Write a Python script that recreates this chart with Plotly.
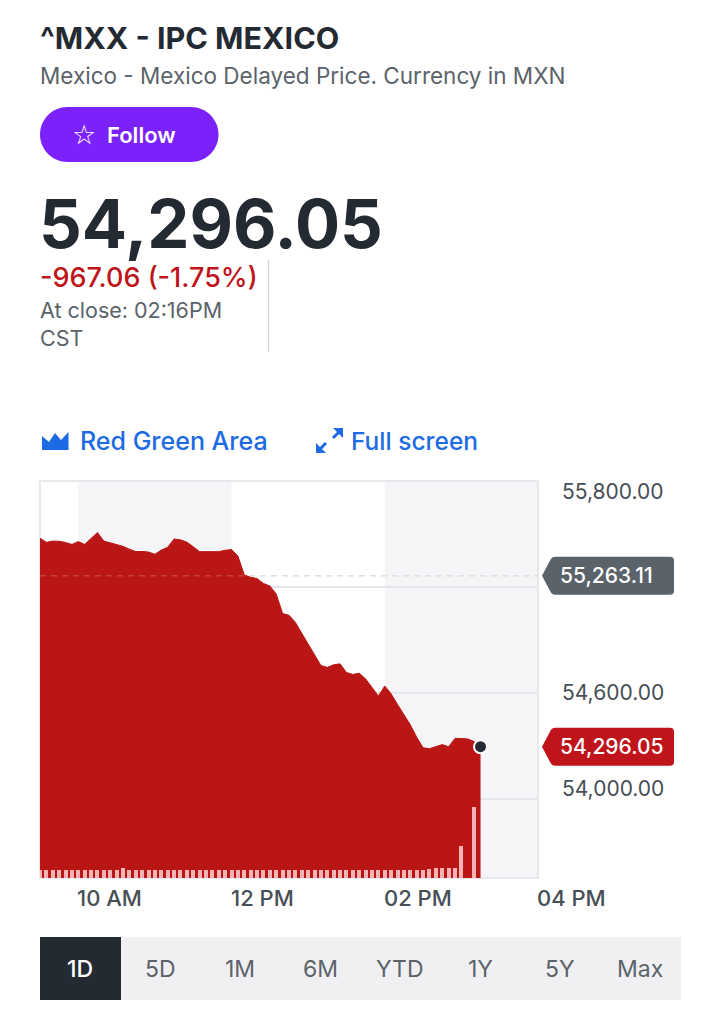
import plotly.graph_objects as go

DAY = "2024-05-14 "

# ---------------- data ----------------
times = ["09:30", "09:35", "09:40", "09:45", "09:50", "09:55", "10:00", "10:05", "10:10", "10:15",
         "10:20", "10:25", "10:30", "10:35", "10:40", "10:45", "10:50", "10:55", "11:00", "11:05",
         "11:10", "11:15", "11:20", "11:25", "11:30", "11:35", "11:40", "11:45", "11:50", "11:55",
         "12:00", "12:05", "12:10", "12:15", "12:20", "12:25", "12:30", "12:35", "12:40", "12:45",
         "12:50", "12:55", "13:00", "13:05", "13:10", "13:15", "13:20", "13:25", "13:30", "13:35",
         "13:40", "13:45", "13:50", "13:55", "14:00", "14:05", "14:10", "14:15", "14:20", "14:25",
         "14:30", "14:35", "14:40", "14:45", "14:50", "14:55", "15:00", "15:05", "15:10", "15:15"]

prices = [55476, 55453, 55460, 55459, 55452, 55441, 55457, 55441, 55475, 55508,
          55460, 55450, 55442, 55430, 55414, 55401, 55401, 55398, 55385, 55409,
          55425, 55472, 55467, 55454, 55428, 55400, 55400, 55400, 55400, 55408,
          55412, 55375, 55268, 55255, 55248, 55220, 55206, 55160, 55050, 55040,
          55000, 54938, 54880, 54815, 54756, 54745, 54760, 54765, 54716, 54705,
          54712, 54680, 54634, 54583, 54640, 54595, 54535, 54480, 54420, 54350,
          54290, 54285, 54296, 54308, 54296, 54343, 54343, 54340, 54325, 54296.05]

volume_times = times[:69]
volumes = [1.0, 1.0, 1.0, 1.0, 1.0, 1.0, 1.0, 1.0, 1.0, 1.0,
           1.0, 1.0, 1.0, 1.25, 1.0, 1.0, 1.0, 1.0, 1.0, 1.0,
           1.0, 1.0, 1.0, 1.0, 1.0, 1.0, 1.0, 1.0, 1.0, 1.0,
           1.0, 1.0, 1.0, 1.0, 1.0, 1.0, 1.0, 1.0, 1.0, 1.0,
           1.0, 1.0, 1.0, 1.0, 1.0, 1.0, 1.0, 1.0, 1.0, 1.0,
           1.0, 1.0, 1.0, 1.0, 1.0, 1.0, 1.0, 1.0, 1.0, 1.0,
           1.0, 1.1, 1.2, 1.3, 1.3, 1.3, 4.0, 0.0, 8.9]

x_tick_vals = ["10:00", "12:00", "14:00", "16:00"]
x_tick_text = ["10 AM", "12 PM", "02 PM", "04 PM"]
grid_vals = [54000, 54600, 55200, 55800]
y_label_vals = [55800, 54600, 54000]
y_label_text = ["55,800.00", "54,600.00", "54,000.00"]
y_label_shift = [-10, 1, 11]
shaded = [("10:00", "12:00"), ("14:00", "16:00")]
prev_close = 55263.11
last_price = 54296.05
ranges = ["1D", "5D", "1M", "6M", "YTD", "1Y", "5Y", "Max"]

x_range = ["09:30", "16:00"]
y_range = [53553, 55800]
vol_range = [0, 49.6]

# ---------------- styling / geometry ----------------
W, H = 720, 1021
L, R, T, B = 40, 538, 481, 878
FONT = "Inter"
DARK = "#232a31"
GRAY = "#5b636a"
RED_AREA = "#bb1616"
RED_TXT = "#c0141b"
BLUE = "#1d6ae5"


def fx(p):
    return (p - L) / (R - L)


def fy(p):
    return (B - p) / (B - T)


def path(cmds):
    out = []
    for c in cmds:
        if isinstance(c, str):
            out.append(c)
        else:
            out.append(f"{fx(c[0]):.5f},{fy(c[1]):.5f}")
    return " ".join(out)


def ts(t):
    return DAY + t


fig = go.Figure()

fig.add_trace(go.Scatter(
    x=[ts(t) for t in times], y=prices, mode="lines",
    line=dict(color=RED_AREA, width=1), fill="tozeroy", fillcolor=RED_AREA,
    hoverinfo="skip", showlegend=False))

fig.add_trace(go.Bar(
    x=[ts(t) for t in volume_times], y=volumes, yaxis="y2",
    marker=dict(color="#f5b3b5", line=dict(width=0)), width=190000,
    hoverinfo="skip", showlegend=False))

fig.add_trace(go.Scatter(
    x=[ts(times[-1])], y=[last_price], mode="markers",
    marker=dict(size=13, color=DARK, line=dict(color="white", width=2)),
    hoverinfo="skip", showlegend=False))

shapes = []
for a, b in shaded:
    shapes.append(dict(type="rect", xref="x", yref="paper", x0=ts(a), x1=ts(b), y0=0, y1=1,
                       fillcolor="#f5f5f7", line=dict(width=0), layer="below"))
shapes.append(dict(type="rect", xref="paper", yref="paper", x0=0, x1=1, y0=0, y1=1,
                   line=dict(color="#e0e3e7", width=1.5), layer="below"))
# previous close dashed line
shapes.append(dict(type="line", xref="paper", yref="y", x0=0, x1=1, y0=prev_close, y1=prev_close,
                   line=dict(color="#d8dade", width=1.5, dash="6px,5px"), layer="below"))
shapes.append(dict(type="line", xref="paper", yref="y", x0=0, x1=1, y0=prev_close, y1=prev_close,
                   line=dict(color="rgba(255,255,255,0.18)", width=1.5, dash="6px,5px"), layer="above"))

# price tag boxes
tag_path = ("M 4,0 L 13,17 Q 14.5,19 17,19 L 132,19 Q 136,19 136,15 L 136,-15 "
            "Q 136,-19 132,-19 L 17,-19 Q 14.5,-19 13,-17 Z")
for val, col in [(prev_close, "#5b636a"), (last_price, "#c0141b")]:
    shapes.append(dict(type="path", xref="paper", yref="y", xsizemode="pixel", ysizemode="pixel",
                       xanchor=1, yanchor=val, path=tag_path, fillcolor=col, line=dict(width=0),
                       layer="above"))

# follow button (pill)
k = 0.5523 * 27.5
shapes.append(dict(type="path", xref="paper", yref="paper", fillcolor="#7b22fb", line=dict(width=0),
                   path=path(["M", (67.5, 107), "L", (191, 107),
                              "C", (191 + k, 107), (218.5, 134.5 - k), (218.5, 134.5),
                              "C", (218.5, 134.5 + k), (191 + k, 162), (191, 162),
                              "L", (67.5, 162),
                              "C", (67.5 - k, 162), (40, 134.5 + k), (40, 134.5),
                              "C", (40, 134.5 - k), (67.5 - k, 107), (67.5, 107), "Z"])))
# divider
shapes.append(dict(type="line", xref="paper", yref="paper", x0=fx(268.5), x1=fx(268.5),
                   y0=fy(260), y1=fy(352), line=dict(color="#d3d6da", width=1.5)))
# area icon
shapes.append(dict(type="path", xref="paper", yref="paper", fillcolor=BLUE, line=dict(width=0),
                   path=path(["M", (42, 450), "L", (42, 436), "L", (49, 442), "L", (55, 433),
                              "L", (61, 440), "L", (68.5, 432), "L", (68.5, 450), "Z"])))
# full screen icon
for tri, ln in [([(333, 428), (343, 428), (343, 438)], [(340.5, 430.5), (333, 438)]),
                ([(316, 443), (316, 453), (326, 453)], [(318.5, 450.5), (326, 443)])]:
    shapes.append(dict(type="path", xref="paper", yref="paper", fillcolor=BLUE, line=dict(width=0),
                       path=path(["M", tri[0], "L", tri[1], "L", tri[2], "Z"])))
    shapes.append(dict(type="line", xref="paper", yref="paper", x0=fx(ln[0][0]), y0=fy(ln[0][1]),
                       x1=fx(ln[1][0]), y1=fy(ln[1][1]), line=dict(color=BLUE, width=3)))
# range selector bar
shapes.append(dict(type="rect", xref="paper", yref="paper", x0=fx(40), x1=fx(681), y0=fy(937), y1=fy(1000),
                   fillcolor="#f0f0f3", line=dict(width=0)))
shapes.append(dict(type="rect", xref="paper", yref="paper", x0=fx(40), x1=fx(121), y0=fy(937), y1=fy(1000),
                   fillcolor=DARK, line=dict(width=0)))

ann = []


def text(x, y, s, size, color, weight=400, anchor="left", family=FONT):
    ann.append(dict(xref="paper", yref="paper", x=fx(x), y=fy(y), text=s, showarrow=False,
                    xanchor=anchor, yanchor="middle", font=dict(family=family, size=size, color=color,
                                                                 weight=weight)))


text(38, 38, "^MXX - IPC MEXICO", 30.5, DARK, 700)
text(38, 75, "Mexico - Mexico Delayed Price. Currency in MXN", 22.5, GRAY)
text(84, 134, "☆", 27, "white", 400, "center", "DejaVu Sans")
text(105, 135, "Follow", 22, "white", 600)
text(37, 223, "54,296.05", 67, DARK, 700)
text(38, 277, "-967.06 (-1.75%)", 27, RED_TXT, 500)
text(38, 310, "At close: 02:16PM", 21.5, GRAY)
text(38, 338, "CST", 21.5, GRAY)
text(78, 441, "Red Green Area", 25, BLUE, 500)
text(349, 441, "Full screen", 24.5, BLUE, 500)

for i, r in enumerate(ranges):
    text(80 + 80 * i, 969, r, 23, "white" if i == 0 else GRAY, 500 if i == 0 else 400, "center")

# axis labels
for v, s, sh in zip(y_label_vals, y_label_text, y_label_shift):
    ann.append(dict(xref="paper", yref="y", x=fx(560), y=v, yshift=sh, text=s, showarrow=False,
                    xanchor="left", yanchor="middle", font=dict(family=FONT, size=21, color="#464e56")))
for v, s in zip(x_tick_vals, x_tick_text):
    ann.append(dict(xref="x", yref="paper", x=ts(v), y=fy(898), text=s, showarrow=False,
                    xanchor="left", xshift=-3, yanchor="middle",
                    font=dict(family=FONT, size=22, color="#464e56", weight=500)))
for v, s in [(prev_close, "55,263.11"), (last_price, "54,296.05")]:
    ann.append(dict(xref="paper", yref="y", x=fx(558), y=v, text=s, showarrow=False,
                    xanchor="left", yanchor="middle",
                    font=dict(family=FONT, size=21, color="white", weight=500)))

fig.update_layout(
    width=W, height=H, margin=dict(l=L, r=W - R, t=T, b=H - B, pad=0),
    paper_bgcolor="white", plot_bgcolor="white",
    xaxis=dict(type="date", range=[ts(x_range[0]), ts(x_range[1])], showgrid=False,
               showticklabels=False, zeroline=False, fixedrange=True),
    yaxis=dict(range=y_range, tickvals=grid_vals, showgrid=True, gridcolor="#e2e5e9", gridwidth=1.5,
               showticklabels=False, zeroline=False, fixedrange=True),
    yaxis2=dict(range=vol_range, overlaying="y", visible=False, fixedrange=True),
    shapes=shapes, annotations=ann, bargap=0, showlegend=False,
)

fig.write_html("out.html", config={"displayModeBar": False},
               post_script="document.body.style.margin='0';document.body.style.overflow='hidden';")
